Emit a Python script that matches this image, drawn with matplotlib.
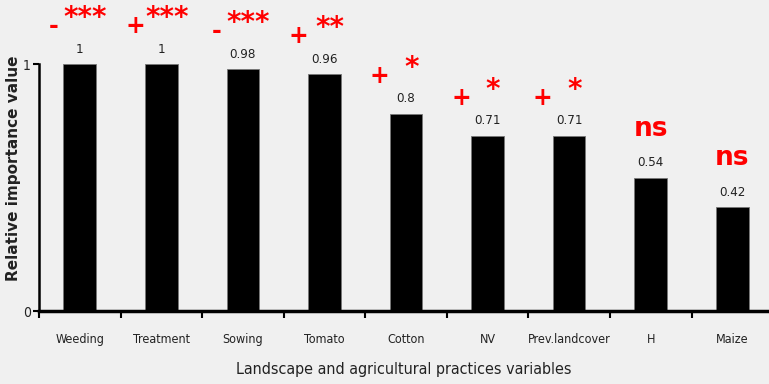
import matplotlib
matplotlib.use("Agg")
import matplotlib.pyplot as plt
import numpy as np

# data
variables = ["Weeding", "Treatment", "Sowing", "Tomato", "Cotton", "NV",
             "Prev.landcover", "H", "Maize"]
importance = [1, 1, 0.98, 0.96, 0.8, 0.71, 0.71, 0.54, 0.42]
value_labels = ["1", "1", "0.98", "0.96", "0.8", "0.71", "0.71", "0.54", "0.42"]
effect_sign = ["-", "+", "-", "+", "+", "+", "+", "", ""]
signif = ["***", "***", "***", "**", "*", "*", "*", "ns", "ns"]

narrow = dict(fontfamily="DejaVu Sans", fontstretch="condensed", color="#222222")
bg = "#f0f0f0"

fig = plt.figure(figsize=(7.69, 3.84), dpi=100, facecolor=bg)
ax = fig.add_axes([0.0507, 0.19, 0.9493, 0.643])
ax.set_facecolor(bg)

x = np.arange(len(variables))
ax.bar(x, importance, width=0.4, color="black", edgecolor="#777777", linewidth=0.6)

for sp in ["top", "right"]:
    ax.spines[sp].set_visible(False)
ax.spines["left"].set_linewidth(1.8)
ax.spines["bottom"].set_linewidth(2.5)

ax.set_yticks([0, 1])
ax.set_yticklabels(["0", "1"], fontsize=10, **narrow)
ax.tick_params(axis="y", length=4, width=1.5, pad=2)

# ticks at category boundaries, labels at centres
ax.set_xticks(np.arange(len(variables) + 1) - 0.5)
ax.set_xticklabels([])
ax.set_xticks(x, minor=True)
ax.set_xticklabels(variables, minor=True, fontsize=9, **narrow)
ax.tick_params(axis="x", which="major", length=5, width=1.5)
ax.tick_params(axis="x", which="minor", length=0, pad=16)

ax.set_xlim(-0.5, 8.45)
ax.set_ylim(0, 1)

ax.set_ylabel("Relative importance value", fontsize=11, fontweight="bold",
              color="#222222")
ax.yaxis.set_label_coords(-0.024, 0.58)
ax.set_xlabel("Landscape and agricultural practices variables",
              fontsize=11.5, labelpad=11, **narrow)

for xi, v, lab, sg, st in zip(x, importance, value_labels, effect_sign, signif):
    ax.annotate(lab, (xi, v), xytext=(0, 6), textcoords="offset points",
                ha="center", va="bottom", fontsize=9.5, annotation_clip=False,
                **narrow)
    if sg:
        ax.annotate(sg, (xi, v), xytext=(-19, 18.5), textcoords="offset points",
                    ha="center", va="bottom", color="red", fontsize=17,
                    fontweight="bold", annotation_clip=False)
        ax.annotate(st, (xi, v), xytext=(4, 23), textcoords="offset points",
                    ha="center", va="bottom", color="red", fontsize=20,
                    fontweight="bold", annotation_clip=False)
    else:
        ax.annotate(st, (xi, v), xytext=(0, 26), textcoords="offset points",
                    ha="center", va="bottom", color="red", fontsize=19,
                    fontweight="bold", annotation_clip=False)

fig.savefig("out.png", dpi=100, facecolor=bg)
